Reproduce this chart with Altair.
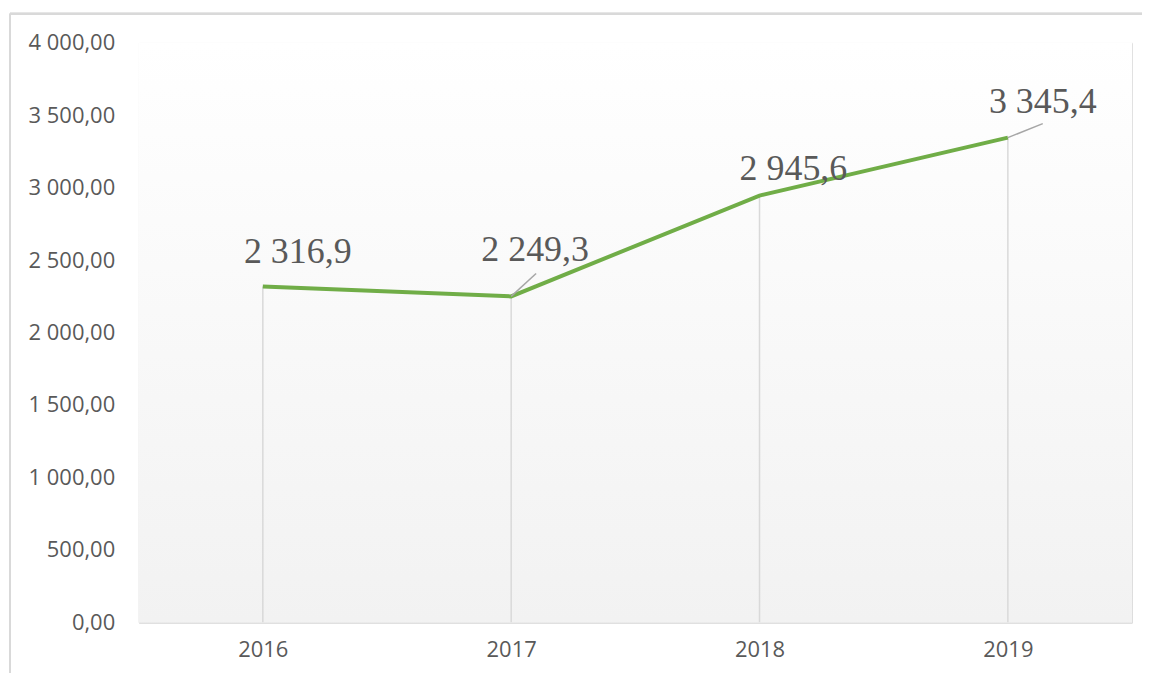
import altair as alt
import pandas as pd

years = ["2016", "2017", "2018", "2019"]
values = [2316.9, 2249.3, 2945.6, 3345.4]

df = pd.DataFrame({"year": years, "value": values})

W, H = 996, 581
GRID = "#d9d9d9"
TXT = "#595959"

x_enc = alt.X("year:N", scale=alt.Scale(type="point", padding=0.5), title=None,
              axis=alt.Axis(labelAngle=0, ticks=False, domain=True, domainColor=GRID,
                            domainWidth=2, labelFont="Open Sans", labelFontSize=22,
                            labelColor=TXT, labelPadding=17, grid=False))
y_enc = alt.Y("value:Q", scale=alt.Scale(domain=[0, 4000], nice=False), title=None,
              axis=alt.Axis(values=[0, 500, 1000, 1500, 2000, 2500, 3000, 3500, 4000],
                            format=",.2f", ticks=False, domain=False, grid=False,
                            labelFont="Open Sans", labelFontSize=22, labelColor=TXT,
                            labelPadding=24))

base = alt.Chart(df)

bg = base.mark_rect(
    color=alt.Gradient(gradient="linear",
                       stops=[alt.GradientStop(color="#ffffff", offset=0),
                              alt.GradientStop(color="#f2f2f2", offset=1)],
                       x1=0, x2=0, y1=0, y2=1)
).encode(x=alt.value(0), x2=alt.value(W), y=alt.value(0), y2=alt.value(H))

drops = base.mark_rule(color=GRID, strokeWidth=1.5).encode(
    x=x_enc, y=y_enc, y2=alt.datum(0))

line = base.mark_line(color="#70ad47", strokeWidth=4).encode(x=x_enc, y=y_enc)

offsets = {"2016": (35, -24), "2017": (24, -35), "2018": (34, -16), "2019": (35, -25)}
labels = []
for yr, (dx, dy) in offsets.items():
    labels.append(
        base.transform_filter(alt.datum.year == yr).mark_text(
            font="Liberation Serif", fontSize=36, color=TXT, dx=dx, dy=dy,
            baseline="alphabetic", align="center"
        ).encode(x=x_enc, y=y_enc, text=alt.Text("value:Q", format=",.1f"))
    )

leaders = []
for yr, (ox, oy) in {"2017": (25, -23), "2019": (35, -14)}.items():
    leaders.append(
        base.transform_filter(alt.datum.year == yr).mark_rule(
            color="#a6a6a6", strokeWidth=1.5, x2Offset=ox, y2Offset=oy
        ).encode(x=x_enc, x2="year:N", y=y_enc, y2="value:Q")
    )

border_left = base.mark_rule(color=GRID, strokeWidth=2).encode(
    x=alt.value(-129), y=alt.value(-29), y2=alt.value(H + 60))
border_top = base.mark_rule(color=GRID, strokeWidth=2).encode(
    x=alt.value(-129), x2=alt.value(W + 40), y=alt.value(-29))

chart = alt.layer(bg, drops, line, *leaders, *labels, border_left, border_top).properties(
    width=W, height=H,
    autosize=alt.AutoSizeParams(type="none"),
    padding={"left": 131, "top": 34, "right": 10, "bottom": 50},
).configure_view(stroke=None).configure(
    locale={"number": {"decimal": ",", "thousands": "\u00a0", "grouping": [3],
                       "currency": ["", ""]}}
)

chart.save("out.html", embed_options={"renderer": "svg", "actions": False})
